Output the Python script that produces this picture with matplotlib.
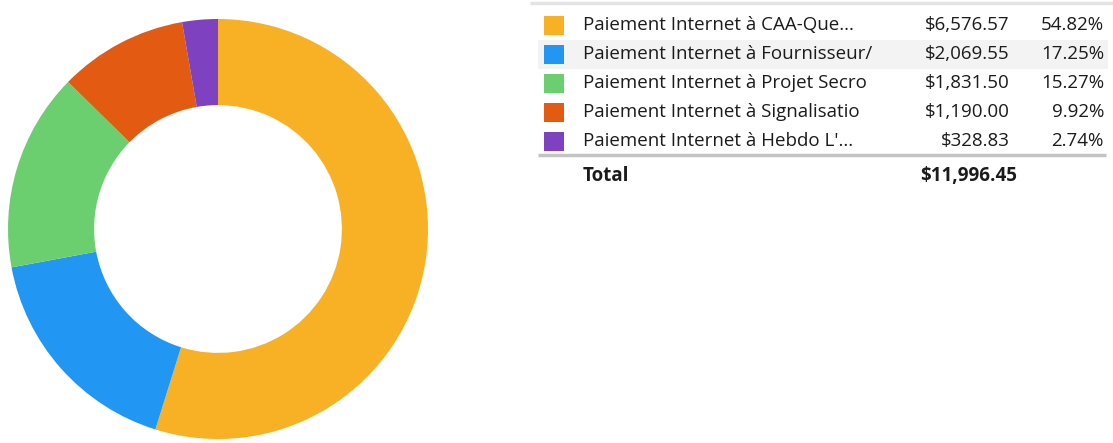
import matplotlib.pyplot as plt
from matplotlib.patches import Rectangle

# data
labels = ["Paiement Internet à CAA-Que...",
          "Paiement Internet à Fournisseur/",
          "Paiement Internet à Projet Secro",
          "Paiement Internet à Signalisatio",
          "Paiement Internet à Hebdo L'..."]
amounts = [6576.57, 2069.55, 1831.50, 1190.00, 328.83]
colors = ["#F8B124", "#2196F3", "#6CCF6F", "#E35A12", "#7E42C1"]

plt.rcParams['font.family'] = ['Open Sans', 'Noto Sans', 'DejaVu Sans']

W, H = 1113, 443
fig = plt.figure(figsize=(W / 100, H / 100), dpi=100)

# --- donut ---
cx, cy, r = 218, 229, 210
ax = fig.add_axes([(cx - r) / W, (H - cy - r) / H, 2 * r / W, 2 * r / H])
ax.pie(amounts, colors=colors, startangle=90, counterclock=False,
       radius=1, wedgeprops=dict(width=0.41, linewidth=0))
ax.set_xlim(-1, 1)
ax.set_ylim(-1, 1)
ax.set_aspect('equal')

# --- table overlay in pixel coords ---
tb = fig.add_axes([0, 0, 1, 1])
tb.set_xlim(0, W)
tb.set_ylim(H, 0)
tb.axis('off')

total = sum(amounts)
txt_color = "#1b1b1b"
fs = 13.5
tb.plot([530, W], [3, 3], color="#e3e3e3", lw=2.5, solid_capstyle='butt')

row0, step = 25, 29
for i, (lab, amt, col) in enumerate(zip(labels, amounts, colors)):
    y = row0 + i * step
    if i == 1:
        tb.add_patch(Rectangle((538, y - 14.5), 570, 29, color="#f3f3f3", lw=0))
    tb.add_patch(Rectangle((544, y - 9.5), 20, 19, color=col, lw=0))
    tb.text(583, y, lab, fontsize=fs, color=txt_color, va='center', ha='left')
    tb.text(1010, y, f"${amt:,.2f}", fontsize=fs, color=txt_color, va='center', ha='right')
    tb.text(1104, y, f"{amt / total * 100:.2f}%", fontsize=fs, color=txt_color,
            va='center', ha='right')

tb.plot([538, 1106], [155, 155], color="#c4c4c4", lw=2.5, solid_capstyle='butt')
tb.text(583, 176, "Total", fontsize=fs, fontweight='bold', color=txt_color,
        va='center', ha='left')
tb.text(1017, 176, f"${total:,.2f}", fontsize=fs, fontweight='bold', color=txt_color,
        va='center', ha='right')

fig.savefig("out.png", dpi=100)
